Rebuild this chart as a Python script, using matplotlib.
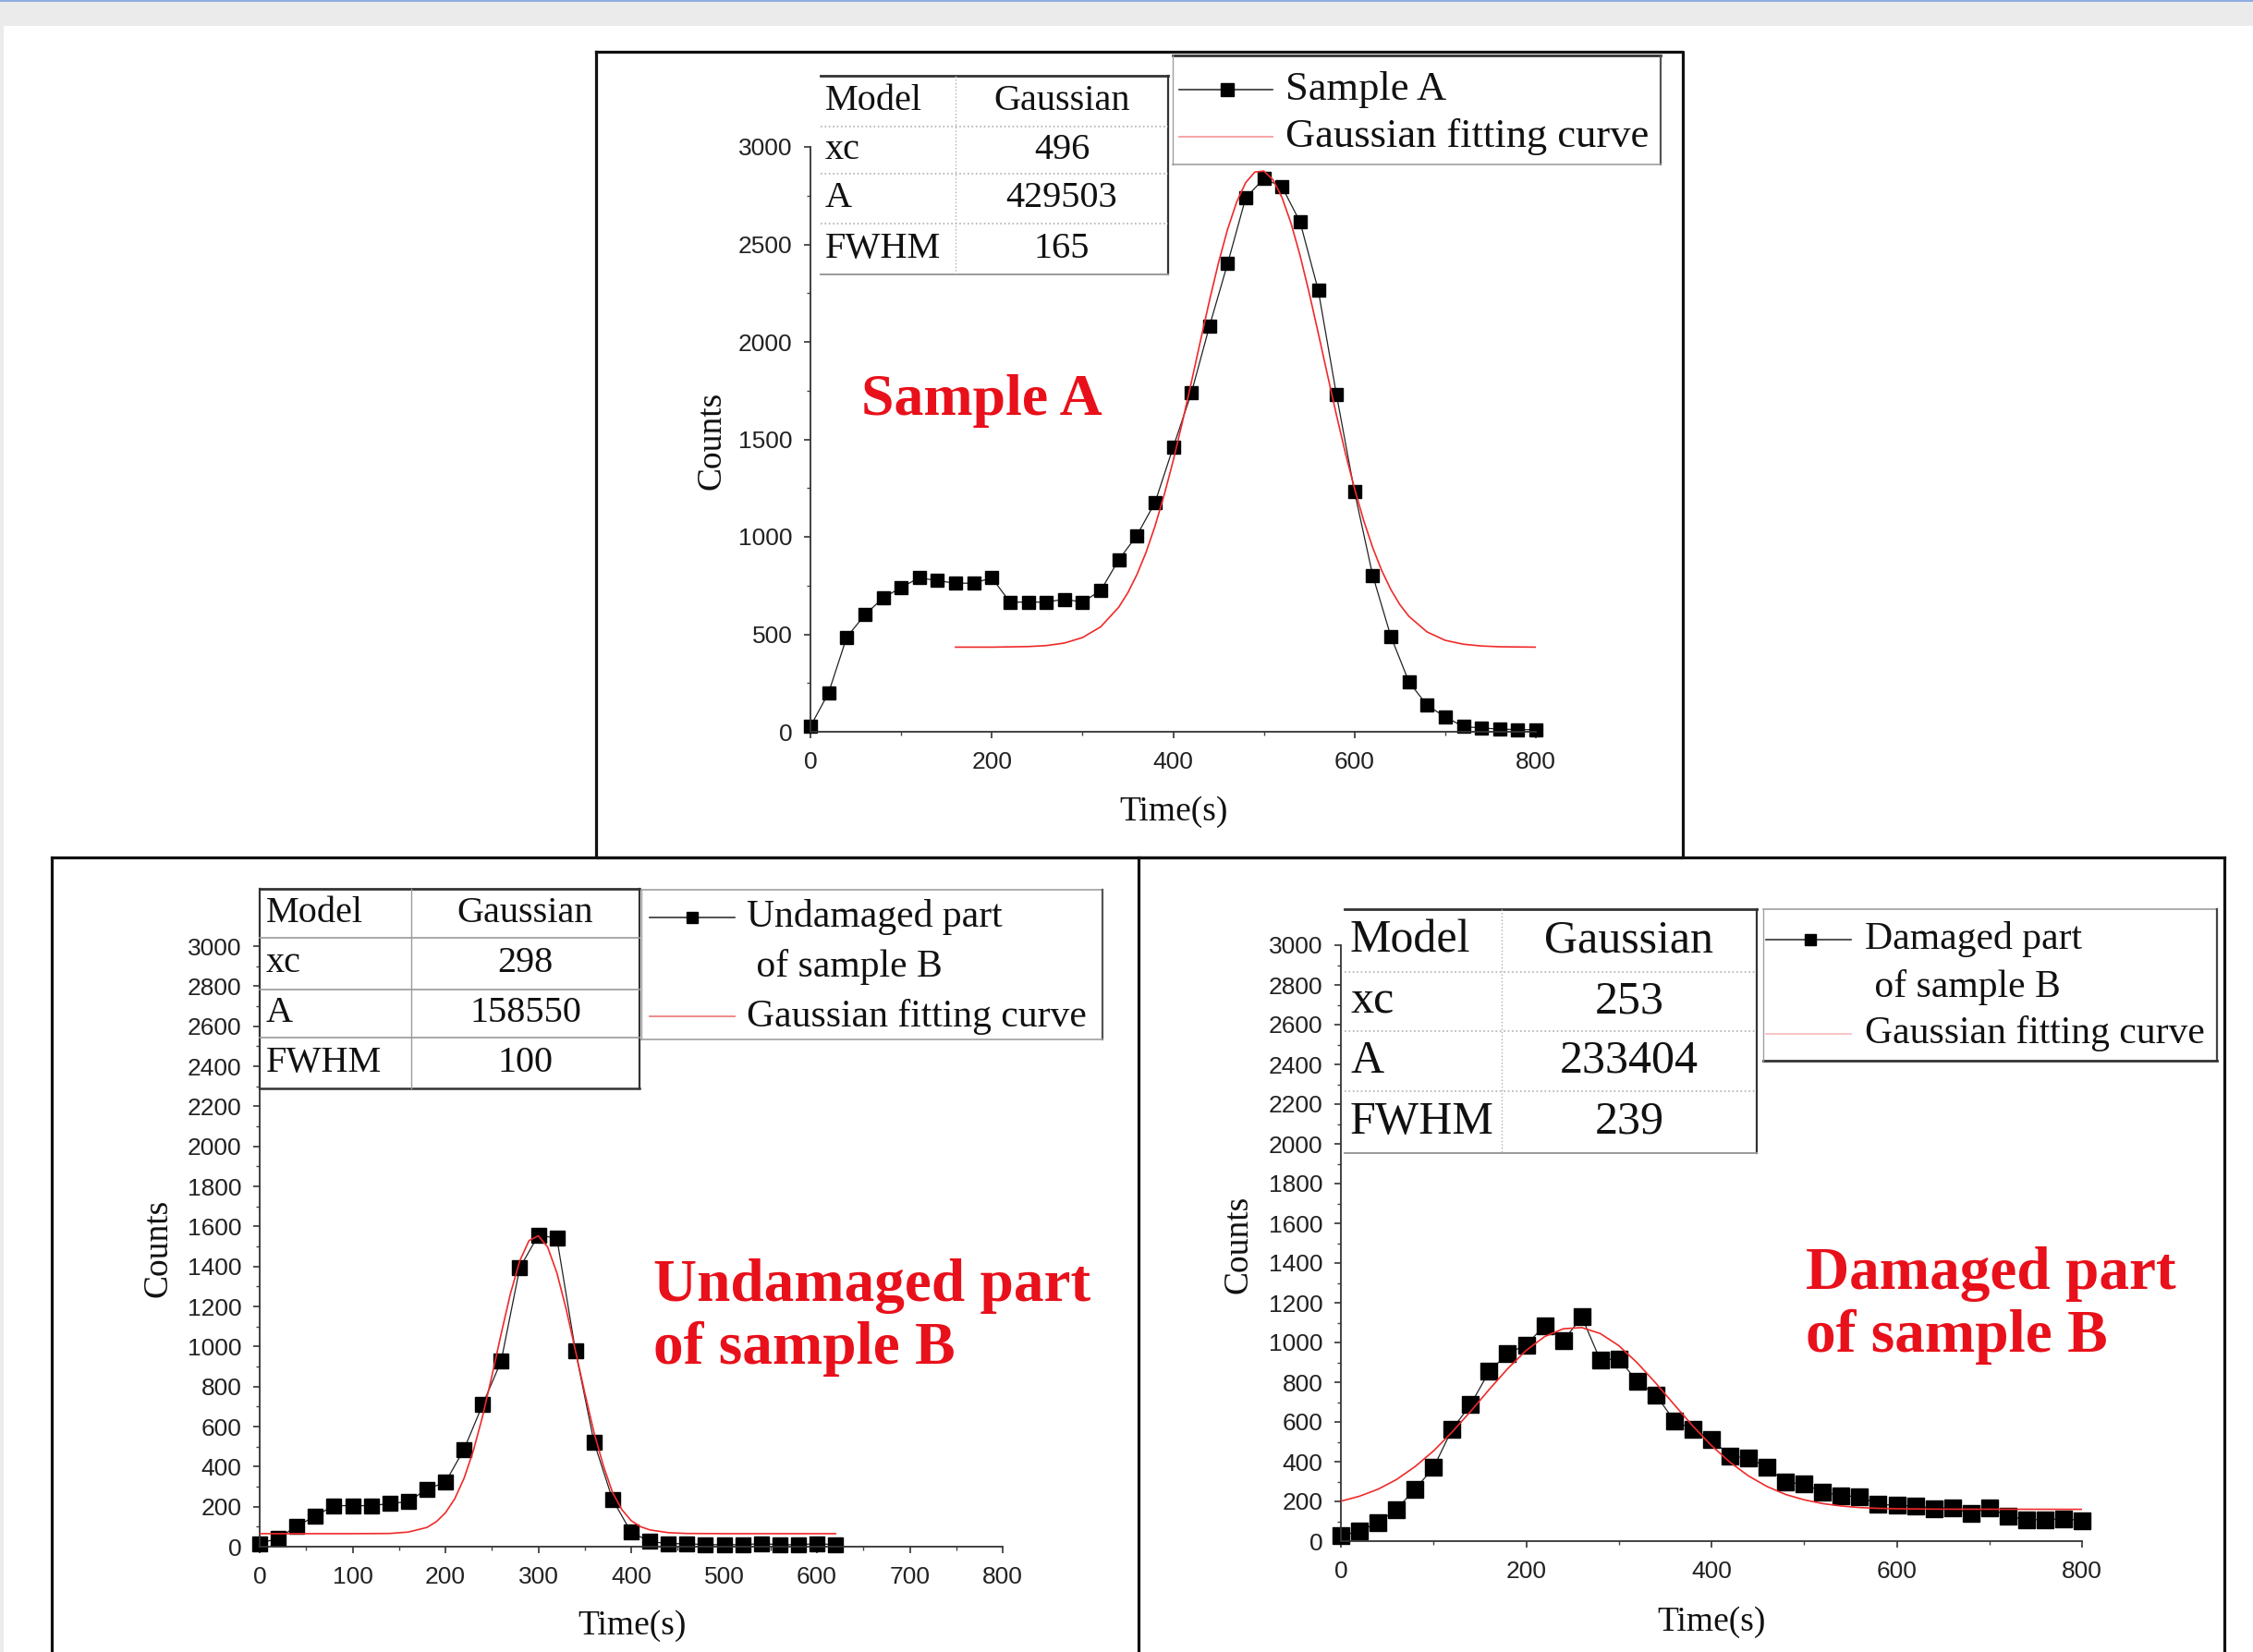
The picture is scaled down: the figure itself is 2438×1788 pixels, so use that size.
import matplotlib.pyplot as plt
from matplotlib.lines import Line2D
from matplotlib.patches import Rectangle
from matplotlib.ticker import MultipleLocator

plt.rcParams['font.family'] = ['Liberation Sans', 'DejaVu Sans']

# ---- data ----
time_a = list(range(0, 801, 20))
counts_a = [27, 200, 485, 600, 686, 740, 790, 775, 762, 762, 790, 665, 665, 665,
            680, 665, 724, 882, 1007, 1176, 1459, 1737, 2080, 2401, 2739, 2837,
            2796, 2614, 2265, 1731, 1231, 803, 490, 256, 136, 76, 27, 19, 14, 11, 11]
fit_time_a = [160, 200, 240, 260, 280, 300, 320, 340, 350, 360, 370, 380, 390, 400,
              410, 420, 430, 440, 450, 460, 470, 480, 490, 500, 510, 520, 530, 540,
              550, 560, 570, 580, 590, 600, 610, 620, 630, 640, 650, 660, 680, 700,
              720, 740, 760, 800]
fit_counts_a = [434, 434, 437, 442, 455, 483, 538, 639, 713, 806, 919, 1055, 1213,
                1390, 1585, 1792, 2003, 2211, 2406, 2577, 2717, 2817, 2871, 2876,
                2832, 2741, 2608, 2442, 2251, 2045, 1834, 1626, 1428, 1247, 1085,
                945, 827, 730, 652, 592, 512, 469, 449, 440, 436, 434]

time_u = list(range(0, 621, 20))
counts_u = [15, 43, 102, 154, 205, 205, 205, 215, 225, 287, 322, 486, 709, 927,
            1392, 1556, 1541, 978, 522, 235, 72, 26, 15, 15, 10, 10, 10, 15, 10,
            10, 15, 10]
fit_time_u = [0, 100, 140, 160, 180, 190, 200, 210, 220, 230, 240, 250, 260, 270,
              280, 290, 300, 310, 320, 330, 340, 350, 360, 370, 380, 390, 400, 410,
              420, 440, 460, 500, 620]
fit_counts_u = [65, 65, 66, 73, 96, 124, 169, 239, 341, 478, 651, 852, 1063, 1264,
                1427, 1529, 1553, 1497, 1368, 1187, 979, 769, 570, 405, 270, 185,
                130, 100, 84, 70, 66, 65, 65]

time_d = list(range(0, 801, 20))
counts_d = [26, 51, 93, 160, 262, 370, 563, 687, 854, 944, 988, 1086, 1008, 1129,
            911, 918, 803, 736, 605, 563, 512, 430, 417, 373, 296, 288, 247, 229,
            224, 185, 180, 177, 165, 167, 139, 167, 126, 108, 108, 113, 103]
fit_time_d = list(range(0, 601, 20)) + [640, 800]
fit_counts_d = [201, 226, 261, 310, 375, 454, 549, 653, 763, 868, 960, 1030, 1069,
                1075, 1045, 984, 897, 795, 686, 579, 481, 397, 328, 275, 235, 208,
                189, 177, 169, 165, 163, 161, 160]

param_names = ['Model', 'xc', 'A', 'FWHM']
params_a = ['Gaussian', '496', '429503', '165']
params_u = ['Gaussian', '298', '158550', '100']
params_d = ['Gaussian', '253', '233404', '239']

# ---- figure in pixel units ----
W, H = 2438, 1788
fig = plt.figure(figsize=(W / 100, H / 100), dpi=100)
fig.patch.set_facecolor('white')

def fx(px):
    return px / W

def fy(py):
    return 1 - py / H

def line(xs, ys, **kw):
    fig.add_artist(Line2D([fx(v) for v in xs], [fy(v) for v in ys],
                          transform=fig.transFigure, **kw))

def text(x, y, s, **kw):
    fig.text(fx(x), fy(y), s, transform=fig.transFigure, **kw)

# page background
fig.add_artist(Rectangle((0, fy(28)), 1, 28 / H, transform=fig.transFigure,
                         color='#ebebeb', lw=0))
fig.add_artist(Rectangle((0, 0), fx(4), fy(28), transform=fig.transFigure,
                         color='#ebebeb', lw=0))
fig.add_artist(Rectangle((0, fy(2)), 1, 2 / H, transform=fig.transFigure,
                         color='#8eaee0', lw=0))

# panel frames
frame = dict(color='#111111', lw=2.3)
line([645, 1821, 1821, 645, 645], [56, 56, 928, 928, 56], **frame)
line([56, 2407], [928, 928], **frame)
for xv in (56, 1232, 2407):
    line([xv, xv], [928, 1790], **frame)


def make_axes(left, right, top, bottom, xmajor, xminor, ymajor, yminor):
    ax = fig.add_axes([fx(left), fy(bottom), (right - left) / W, (bottom - top) / H])
    ax.patch.set_alpha(0)
    ax.set_xlim(0, 800)
    ax.set_ylim(0, 3000)
    for s in ('top', 'right'):
        ax.spines[s].set_visible(False)
    for s in ('left', 'bottom'):
        ax.spines[s].set_color('#333333')
        ax.spines[s].set_linewidth(1.3)
    ax.xaxis.set_major_locator(MultipleLocator(xmajor))
    ax.xaxis.set_minor_locator(MultipleLocator(xminor))
    ax.yaxis.set_major_locator(MultipleLocator(ymajor))
    ax.yaxis.set_minor_locator(MultipleLocator(yminor))
    ax.tick_params(which='major', direction='out', length=5, width=1.1,
                   labelsize=19, colors='#222222')
    ax.tick_params(axis='x', which='major', pad=10)
    ax.tick_params(axis='y', which='major', pad=9)
    ax.tick_params(which='minor', direction='out', length=3, width=1.0,
                   colors='#444444')
    return ax


def draw_table(left, mid, right, rows, names, values, fs, name_x,
               outer='#333333', inner='#b0b0b0', inner_ls=':', full_box=False):
    line([left, right], [rows[0], rows[0]], color=outer, lw=2.0)
    line([right, right], [rows[0], rows[-1]], color=outer, lw=1.6)
    line([left, right], [rows[-1], rows[-1]], color=outer if full_box else '#999999',
         lw=1.8 if full_box else 1.4)
    if full_box:
        line([left, left], [rows[0], rows[-1]], color=outer, lw=1.6)
    for yv in rows[1:-1]:
        line([left, right], [yv, yv], color=inner, lw=1.2, ls=inner_ls)
    line([mid, mid], [rows[0], rows[-1]], color=inner, lw=1.0, ls=inner_ls)
    for i in range(len(names)):
        yc = (rows[i] + rows[i + 1]) / 2
        text(name_x, yc, names[i], fontsize=fs, family='Liberation Serif',
             ha='left', va='center', color='#111111')
        text((mid + right) / 2, yc, values[i], fontsize=fs, family='Liberation Serif',
             ha='center', va='center', color='#111111')


def draw_legend(box, line_x, mark_x, text_x, data_rows, fit_row, fs, ms,
                fit_color, labels, edges):
    x0, y0, x1, y1 = box
    top_c, right_c, bottom_c, left_c = edges
    line([x0, x1], [y0, y0], color=top_c, lw=2.0 if top_c != '#a0a0a0' else 1.2)
    line([x1, x1], [y0, y1], color=right_c, lw=1.6)
    line([x0, x1], [y1, y1], color=bottom_c, lw=2.0 if bottom_c != '#a0a0a0' else 1.2)
    line([x0, x0], [y0, y1], color=left_c, lw=1.0)
    line(line_x, [data_rows[0][1]] * 2, color='#333333', lw=1.2)
    fig.add_artist(Line2D([fx(mark_x)], [fy(data_rows[0][1])], marker='s', ms=ms,
                          color='black', transform=fig.transFigure))
    for (lbl_x, yv), s in zip(data_rows, labels[:-1]):
        text(lbl_x, yv, s, fontsize=fs, family='Liberation Serif', ha='left',
             va='center', color='#111111')
    line(line_x, [fit_row, fit_row], color=fit_color, lw=1.4)
    text(text_x, fit_row, labels[-1], fontsize=fs, family='Liberation Serif',
         ha='left', va='center', color='#111111')


red = '#e8101a'
fit_red = '#f02a2a'

# ---- Sample A ----
ax_a = make_axes(877, 1662, 159, 792, 200, 100, 500, 250)
ax_a.plot(time_a, counts_a, '-', color='#222222', lw=0.9, marker='s', ms=10,
          mfc='black', mec='black', clip_on=False, zorder=2)
ax_a.plot(fit_time_a, fit_counts_a, '-', color=fit_red, lw=1.2, zorder=3)
text(770, 477, 'Counts', fontsize=27, family='Liberation Serif', rotation=90,
     ha='center', va='center', color='#111111')
text(1270, 879, 'Time(s)', fontsize=27, family='Liberation Serif',
     ha='center', va='center', color='#111111')
text(932, 434, 'Sample A', fontsize=46, family='Liberation Serif',
     weight='bold', color=red, ha='left', va='center')
draw_table(888, 1034, 1264, [82, 137, 188, 242, 297], param_names, params_a,
           29, 893)
draw_legend((1269, 60, 1797, 178), [1276, 1377], 1328, 1391, [(1391, 97)], 148,
            32, 10, '#f6a4a4', ['Sample A', 'Gaussian fitting curve'],
            ('#333333', '#555555', '#a0a0a0', '#a0a0a0'))

# ---- Undamaged part of sample B ----
ax_u = make_axes(281, 1085, 1024, 1674, 100, 50, 200, 100)
ax_u.plot(time_u, counts_u, '-', color='#222222', lw=0.9, marker='s', ms=11.5,
          mfc='black', mec='black', clip_on=False, zorder=2)
ax_u.plot(fit_time_u, fit_counts_u, '-', color=fit_red, lw=1.2, zorder=3)
text(171, 1351, 'Counts', fontsize=27, family='Liberation Serif', rotation=90,
     ha='center', va='center', color='#111111')
text(684, 1760, 'Time(s)', fontsize=27, family='Liberation Serif',
     ha='center', va='center', color='#111111')
text(707, 1426, 'Undamaged part\nof sample B', fontsize=47, family='Liberation Serif',
     weight='bold', color=red, ha='left', va='center', linespacing=1.15)
draw_table(281, 445, 692, [962, 1015, 1071, 1123, 1178], param_names, params_u,
           29, 288, inner='#9a9a9a', inner_ls='-', full_box=True)
draw_legend((694, 963, 1193, 1125), [703, 795], 749, 808,
            [(808, 993), (808, 1047)], 1100, 30, 9,
            '#ee8a8a', ['Undamaged part', ' of sample B', 'Gaussian fitting curve'],
            ('#a0a0a0', '#555555', '#a0a0a0', '#a0a0a0'))

# ---- Damaged part of sample B ----
ax_d = make_axes(1451, 2253, 1023, 1668, 200, 100, 200, 100)
ax_d.plot(time_d, counts_d, '-', color='#222222', lw=0.9, marker='s', ms=12.5,
          mfc='black', mec='black', clip_on=False, zorder=2)
ax_d.plot(fit_time_d, fit_counts_d, '-', color=fit_red, lw=1.2, zorder=3)
text(1340, 1347, 'Counts', fontsize=27, family='Liberation Serif', rotation=90,
     ha='center', va='center', color='#111111')
text(1852, 1756, 'Time(s)', fontsize=27, family='Liberation Serif',
     ha='center', va='center', color='#111111')
text(1954, 1413, 'Damaged part\nof sample B', fontsize=47, family='Liberation Serif',
     weight='bold', color=red, ha='left', va='center', linespacing=1.15)
draw_table(1455, 1625, 1901, [984, 1052, 1116, 1181, 1248], param_names, params_d,
           36, 1461)
draw_legend((1908, 984, 2399, 1148), [1911, 2003], 1959, 2018,
            [(2018, 1017), (2018, 1068)], 1119, 30, 9,
            '#f8c4c4', ['Damaged part', ' of sample B', 'Gaussian fitting curve'],
            ('#a0a0a0', '#444444', '#333333', '#a0a0a0'))

fig.savefig('out.png', dpi=100)
